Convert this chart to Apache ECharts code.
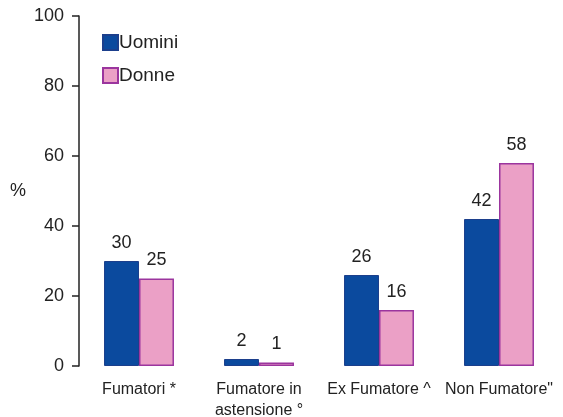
<!DOCTYPE html>
<html>
<head>
<meta charset="utf-8">
<script src="https://cdn.jsdelivr.net/npm/echarts@6/dist/echarts.min.js"></script>
<style>
html,body{margin:0;padding:0;background:#fff;}
#chart{width:563px;height:417px;}
</style>
</head>
<body>
<div id="chart"></div>
<script>
// Abitudine al fumo per sesso (%)
const categories = ['Fumatori *', 'Fumatore in\nastensione °', 'Ex Fumatore ^', 'Non Fumatore"'];
const uomini = [30, 2, 26, 42];
const donne = [25, 1, 16, 58];
const yTicks = [0, 20, 40, 60, 80, 100];

const font = 'Liberation Sans, Arial, sans-serif';
const chart = echarts.init(document.getElementById('chart'));
chart.setOption({
  animation: false,
  backgroundColor: '#fff',
  textStyle: { fontFamily: font },
  grid: { left: 79, right: 4, top: 16, bottom: 51, outerBoundsMode: 'none', containLabel: false },
  legend: {
    orient: 'vertical',
    left: 97, top: 28,
    itemWidth: 15, itemHeight: 15, itemGap: 14,
    icon: 'rect',
    textStyle: { fontSize: 19, color: '#222', fontFamily: font, padding: [0, 0, 0, -4] },
    data: ['Uomini', 'Donne']
  },
  xAxis: {
    type: 'category',
    data: categories,
    axisLine: { show: false },
    axisTick: { show: false },
    axisLabel: { color: '#222', fontSize: 16, margin: 13, lineHeight: 21, fontFamily: font, interval: 0 }
  },
  yAxis: {
    type: 'value',
    min: yTicks[0], max: yTicks[yTicks.length - 1], interval: 20,
    name: '%',
    nameLocation: 'middle',
    nameRotate: 0,
    nameGap: 53,
    nameTextStyle: { color: '#222', fontSize: 18, fontFamily: font },
    axisLine: { show: true, lineStyle: { color: '#222', width: 1.5 } },
    axisTick: { show: true, length: 7, lineStyle: { color: '#222', width: 1.5 } },
    axisLabel: { color: '#222', fontSize: 18, margin: 15, fontFamily: font },
    splitLine: { show: false }
  },
  series: [
    {
      name: 'Uomini', type: 'bar', data: uomini,
      barGap: '0%', barCategoryGap: '41.7%',
      itemStyle: { color: '#0b4a9e', borderColor: '#1c3f8c', borderWidth: 1 },
      label: { show: true, position: 'top', distance: 9, color: '#222', fontSize: 18, fontFamily: font }
    },
    {
      name: 'Donne', type: 'bar', data: donne,
      itemStyle: { color: '#eba0c6', borderColor: '#9b359e', borderWidth: 1.5 },
      label: { show: true, position: 'top', distance: 9, color: '#222', fontSize: 18, fontFamily: font }
    }
  ]
});
</script>
</body>
</html>
